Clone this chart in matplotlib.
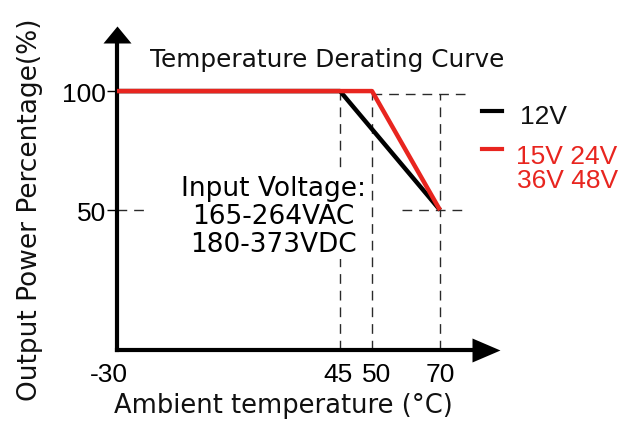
import numpy as np
import matplotlib
matplotlib.use("Agg")
import matplotlib.pyplot as plt
from matplotlib.transforms import ScaledTranslation

# Datos de la curva de reduccion de potencia
temps_12v = [-30, 45, 70]
power_12v = [100, 100, 50]
temps_hv = [-30, 50, 70]
power_hv = [100, 100, 50]

x_ticks = [-30, 45, 50, 70]
y_ticks = [50, 100]
legend_labels = ["12V", "15V 24V", "36V 48V"]
input_lines = ["Input Voltage:", "165-264VAC", "180-373VDC"]

ROJO = "#e8251f"
W, H = 626, 427

# Escala esquematica (el dibujo original no es lineal en x)
knot_t = np.array([-1000, -30, 45, 50, 70, 1000])
knot_u = np.array([-2884, 0, 223, 255, 323, 3485])


def forward(t):
    return np.interp(t, knot_t, knot_u)


def inverse(u):
    return np.interp(u, knot_u, knot_t)


def fx(px):
    return px / W


def fy(py):
    return 1 - py / H


fig = plt.figure(figsize=(W / 100, H / 100), dpi=100)
ax = fig.add_axes([fx(117), fy(351), (472 - 117) / W, (351 - 44) / H])
ax.set_xscale("function", functions=(forward, inverse))
ax.set_xlim(-30, inverse(355))
ax.set_ylim(-8.8, 120.2)

# Ejes con flechas
for s in ["top", "right"]:
    ax.spines[s].set_visible(False)
ax.spines["left"].set_linewidth(3)
ax.spines["bottom"].set_linewidth(3)
ax.plot(0, 1, marker=[(-14, 0), (14, 0), (0, 17)], ms=24.5, color="black",
        mew=0, transform=ax.transAxes, clip_on=False)
ax.plot(1, 0, marker=[(0, -12), (0, 12), (28, 0)], ms=40.3, color="black",
        mew=0, transform=ax.transAxes, clip_on=False)

# Lineas de referencia discontinuas
dash = dict(color="#2a2a2a", lw=1.0, linestyle=(0, (7, 5)), zorder=1)
ax.plot([45, 45], [-8.8, 98.7], **dash)
ax.plot([50, 50], [-8.8, 100], **dash)
ax.plot([70, 70], [-8.8, 98.7], **dash)
ax.plot([50, 77.4], [98.7, 98.7], **dash)
ax.plot([58.8, 77.4], [50, 50], **dash)
ax.plot([-30, -19.6], [50, 50], **dash)

# Curvas
ax.plot(temps_12v, power_12v, color="black", lw=3.2, solid_capstyle="butt", zorder=3)
ax.plot(temps_hv, power_hv, color=ROJO, lw=3.2, solid_capstyle="butt", zorder=4)

ax.set_xticks(x_ticks)
ax.set_xticklabels([str(v) for v in x_ticks], family="Liberation Sans", fontsize=19)
ax.set_yticks(y_ticks)
ax.set_yticklabels([str(v) for v in y_ticks], family="Liberation Sans", fontsize=19)
ax.tick_params(axis="x", length=0, pad=9)
ax.tick_params(axis="y", length=7, width=1, pad=1)
ax.minorticks_off()

# pequenos desplazamientos de las etiquetas como en el original
for lab, dx in zip(ax.get_xticklabels(), [-8, -2, 5, 0]):
    lab.set_transform(lab.get_transform() + ScaledTranslation(dx / 100, 0, fig.dpi_scale_trans))

# Texto de voltaje de entrada
ax.text(0.44, 0.435, "\n".join(input_lines), transform=ax.transAxes,
        ha="center", va="center", multialignment="center", fontsize=19,
        linespacing=1.1, zorder=5,
        bbox=dict(facecolor="white", edgecolor="none", pad=1))

# Leyenda manual
fig.add_artist(plt.Line2D([fx(482), fx(502)], [fy(112), fy(112)], color="black", lw=3))
fig.add_artist(plt.Line2D([fx(482), fx(502)], [fy(150), fy(150)], color=ROJO, lw=3))
fig.text(fx(520), fy(117), legend_labels[0], fontsize=19, family="Liberation Sans",
         va="center", ha="left", color="#111111")
fig.text(fx(516), fy(157), legend_labels[1], fontsize=19, family="Liberation Sans",
         va="center", ha="left", color=ROJO)
fig.text(fx(517), fy(181), legend_labels[2], fontsize=19, family="Liberation Sans",
         va="center", ha="left", color=ROJO)

# Titulos
fig.text(fx(327), fy(67), "Temperature Derating Curve", fontsize=17.8,
         ha="center", va="baseline", color="#111111")
fig.text(fx(283), fy(413), "Ambient temperature (°C)", fontsize=18.5,
         ha="center", va="baseline", color="#111111")
fig.text(fx(30), fy(210), "Output Power Percentage(%)", fontsize=19,
         rotation=90, ha="center", va="center", color="#111111")

fig.savefig("out.png", dpi=100)
